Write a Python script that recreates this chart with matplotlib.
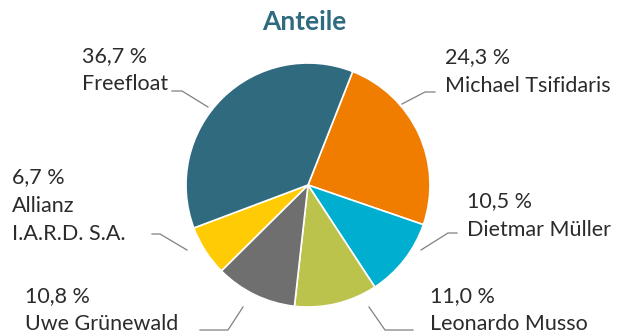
import matplotlib
matplotlib.use("Agg")
import matplotlib.pyplot as plt

# ---- data ----
labels = ["Michael Tsifidaris", "Dietmar Müller", "Leonardo Musso",
          "Uwe Grünewald", "Allianz\nI.A.R.D. S.A.", "Freefloat"]
shares = [24.3, 10.5, 11.0, 10.8, 6.7, 36.7]
colors = ["#f07d00", "#00afcf", "#bcc34c", "#6f6f6f", "#ffcb05", "#2f6a7f"]
title = "Anteile"

W, H = 624, 336
fig = plt.figure(figsize=(W / 100, H / 100), dpi=100)
ax = fig.add_axes([0, 0, 1, 1])
ax.set_xlim(0, W)
ax.set_ylim(0, H)
ax.set_aspect("equal")
ax.axis("off")

def Y(y):  # image y -> data y
    return H - y

cx, cy, R = 308, 185, 122
ax.pie(shares, colors=colors, startangle=68.5, counterclock=False,
       center=(cx, Y(cy)), radius=R,
       wedgeprops=dict(edgecolor="white", linewidth=1.2))
ax.set_xlim(0, W)
ax.set_ylim(0, H)

font = ["Lato", "DejaVu Sans"]
fs = 15.5
tcol = "#2b2b2b"

# layout: (text x, baseline of first line, leader polyline in image px)
layout = [
    (445, 63, [(435, 92), (425, 92), (402, 104)]),
    (467, 207, [(457, 233), (448, 233), (421, 250)]),
    (430, 302, [(413, 330), (385, 330), (369, 307)]),
    (25, 302, [(200, 330), (228, 330), (243, 307)]),
    (12, 183, [(152, 234), (160, 234), (187, 250)]),
    (82, 62, [(172, 91), (182, 91), (208, 107)]),
]
pitch = 28.5
for lab, v, (tx, ty, pts) in zip(labels, shares, layout):
    lines = [f"{v:.1f}".replace(".", ",") + " %"] + lab.split("\n")
    for i, s in enumerate(lines):
        ax.text(tx, Y(ty + i * pitch), s, fontsize=fs, family=font,
                weight="normal", color=tcol, ha="left", va="baseline")
    xs = [p[0] for p in pts]
    ys = [Y(p[1]) for p in pts]
    ax.plot(xs, ys, color="#808080", linewidth=0.9)

ax.text(304, Y(30), title, fontsize=19, family=font, weight="bold",
        color="#2f6a7f", ha="center", va="baseline")

fig.savefig("out.png", dpi=100)
